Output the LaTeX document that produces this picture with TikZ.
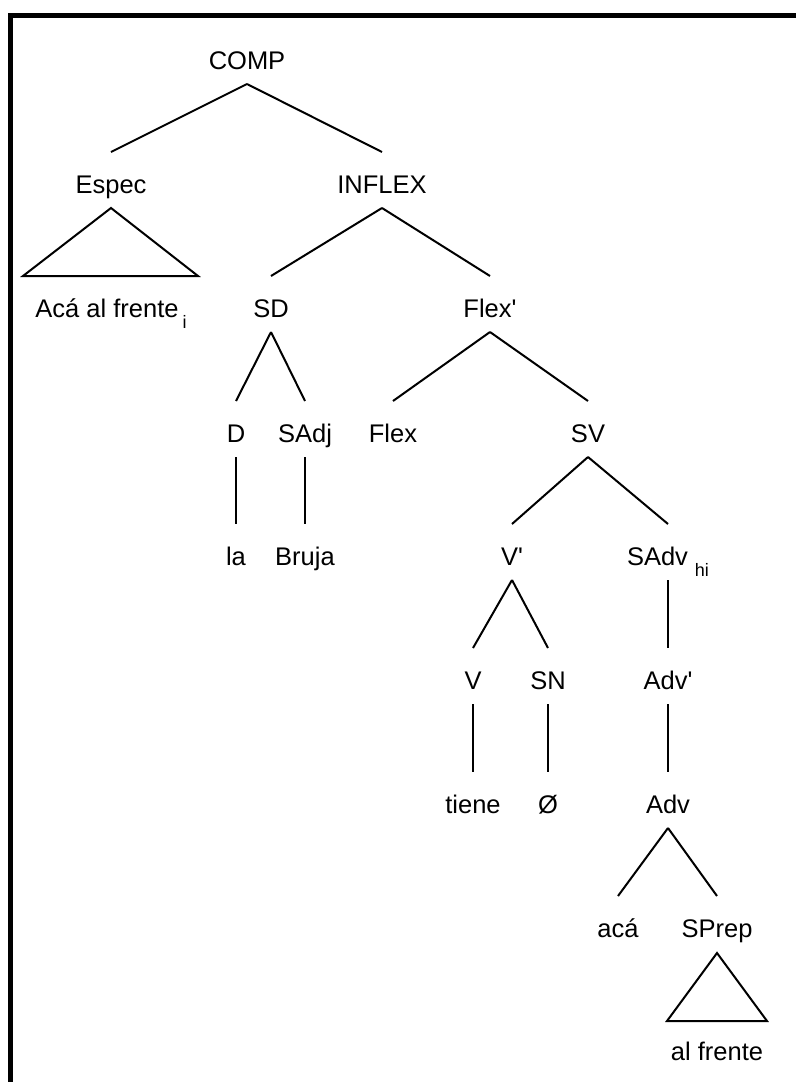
\documentclass[tikz,border=0pt]{standalone}
\usepackage{fontspec}
\setmainfont{Liberation Sans}
\newcommand\lowidx[1]{\raisebox{-11pt}{\fontsize{18}{20}\selectfont #1}}
\newcommand\barmark{\textquotesingle}
\begin{document}
\begin{tikzpicture}[x=1pt,y=-1pt,
  lbl/.style={anchor=base, inner sep=0pt, font=\fontsize{25.5}{30}\selectfont},
  edge/.style={line width=2pt},
  frame/.style={line width=4.5pt}]
\useasboundingbox (0,0) rectangle (796,1082);
\fill[white] (0,0) rectangle (796,1082);
% open frame: top and left sides
\draw[frame] (796,15.3) -- (10.5,15.3) -- (10.5,1082);

% labels, placed by their baselines
\node[lbl] (comp)   at (247,69)  {COMP};
\node[lbl] (espec)  at (111,193) {Espec};
\node[lbl] (inflex) at (382,193) {INFLEX};
\node[lbl] (aca1)   at (111,317) {Acá al frente\hspace{4pt}\lowidx{i}};
\node[lbl] (sd)     at (271,317) {SD};
\node[lbl] (flexb)  at (490,317) {Flex\barmark};
\node[lbl] (d)      at (236,442) {D};
\node[lbl] (sadj)   at (305,442) {SAdj};
\node[lbl] (flex)   at (393,442) {Flex};
\node[lbl] (sv)     at (588,442) {SV};
\node[lbl] (la)     at (236,565) {la};
\node[lbl] (bruja)  at (305,565) {Bruja};
\node[lbl] (vb)     at (512,565) {V\barmark};
\node[lbl] (sadv)   at (668,565) {SAdv\hspace{7pt}\lowidx{hi}};
\node[lbl] (v)      at (473,689) {V};
\node[lbl] (sn)     at (548,689) {SN};
\node[lbl] (advb)   at (668,689) {Adv\barmark};
\node[lbl] (tiene)  at (473,813) {tiene};
\node[lbl] (empty)  at (548,813) {Ø};
\node[lbl] (adv)    at (668,813) {Adv};
\node[lbl] (aca)    at (618,937) {acá};
\node[lbl] (sprep)  at (717,937) {SPrep};
\node[lbl] (alfr)   at (717,1060) {al frente};

% branches: from below the parent to above the child
\newcommand\branch[2]{\draw[edge] ([yshift=-15pt]#1.base) -- ([yshift=41pt]#2.base);}
\branch{comp}{espec}
\branch{comp}{inflex}
\branch{inflex}{sd}
\branch{inflex}{flexb}
\branch{sd}{d}
\branch{sd}{sadj}
\branch{flexb}{flex}
\branch{flexb}{sv}
\branch{d}{la}
\branch{sadj}{bruja}
\branch{sv}{vb}
\branch{sv}{sadv}
\branch{vb}{v}
\branch{vb}{sn}
\branch{sadv}{advb}
\branch{v}{tiene}
\branch{sn}{empty}
\branch{advb}{adv}
\branch{adv}{aca}
\branch{adv}{sprep}

% roof triangles
\coordinate (t1l) at (23,276);
\coordinate (t1r) at (198,276);
\draw[edge, line join=miter] ([yshift=-15pt]espec.base) -- (t1l) -- (t1r) -- cycle;
\coordinate (t2l) at (667,1021);
\coordinate (t2r) at (767,1021);
\draw[edge, line join=miter] ([yshift=-16pt]sprep.base) -- (t2l) -- (t2r) -- cycle;
\end{tikzpicture}
\end{document}
